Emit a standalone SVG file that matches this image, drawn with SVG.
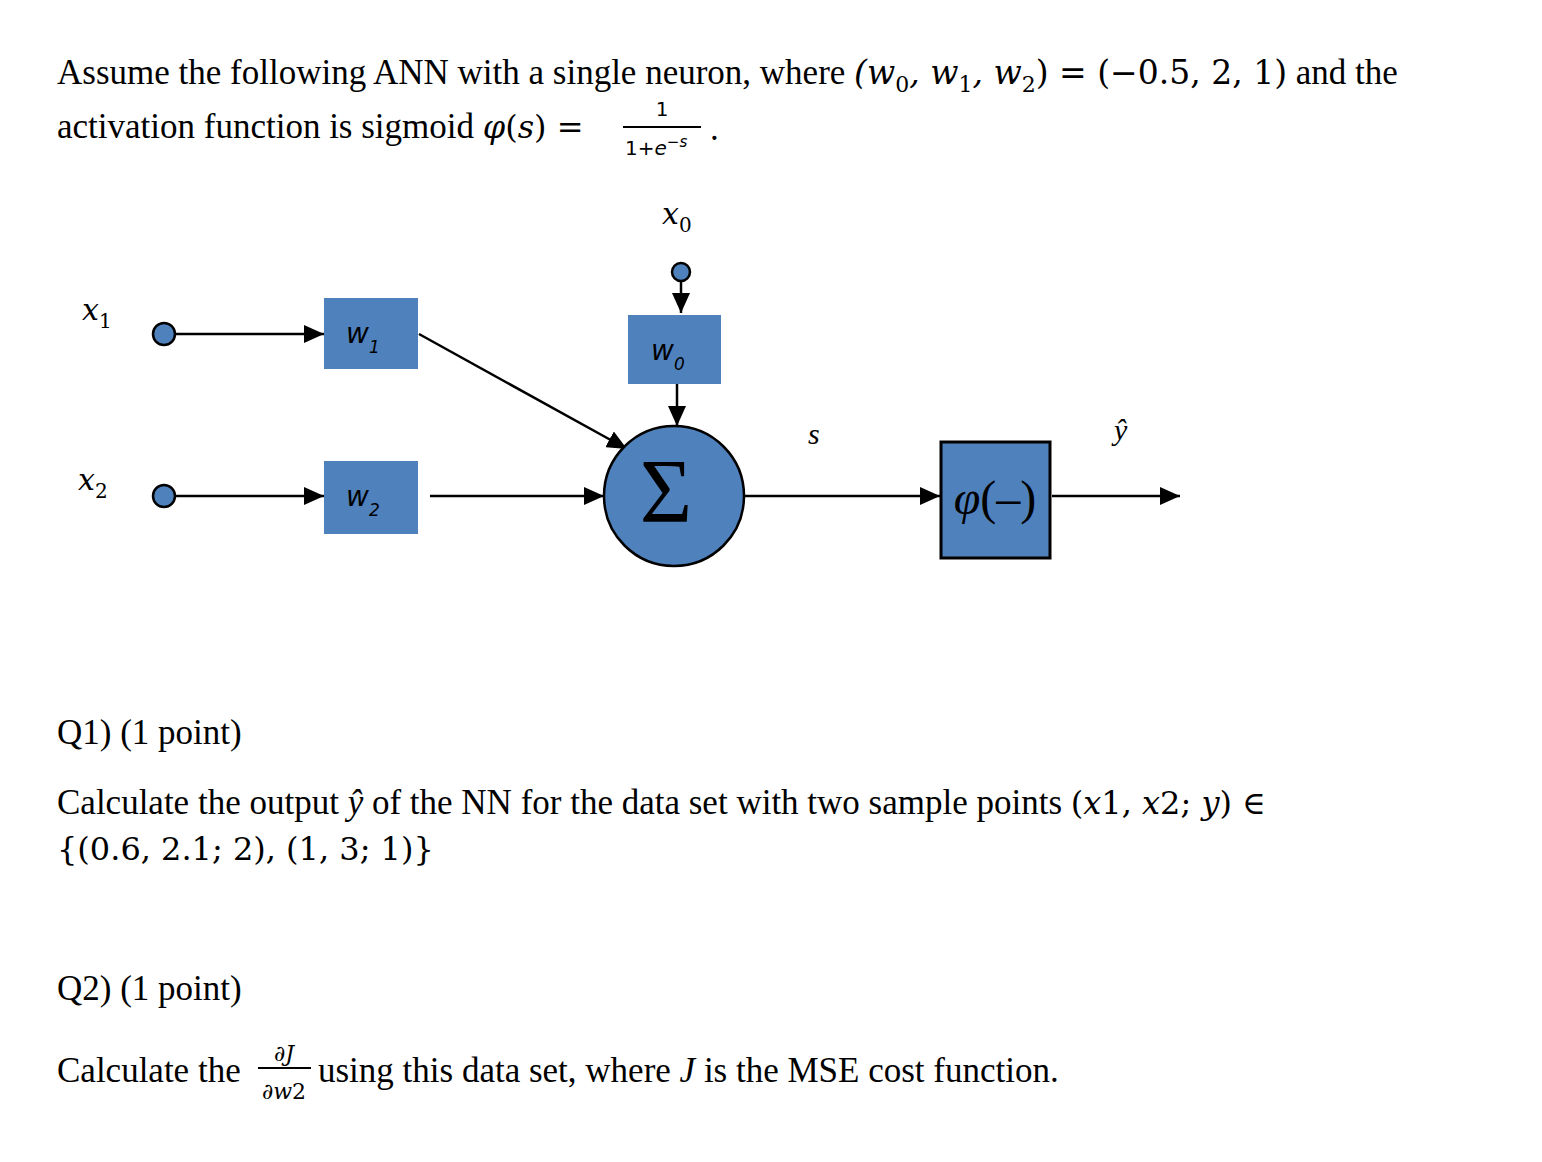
<svg xmlns="http://www.w3.org/2000/svg" width="1542" height="1162" viewBox="0 0 1542 1162">
<style>
.t{font-family:"Liberation Serif",serif;font-size:35px;fill:#000}
.m{font-family:"DejaVu Serif","Liberation Serif",serif;font-size:32px;fill:#000}
.mi{font-style:italic}
.sm{font-size:22px}
.box{fill:#4f81bd}
.lbl{font-family:"DejaVu Sans",sans-serif;font-style:italic;font-size:28px;fill:#000}
.sub{font-size:17px}
.ln{stroke:#000;stroke-width:2.5;fill:none}
.dot{fill:#4f81bd;stroke:#000;stroke-width:2.5}
</style>
<defs>
<marker id="b" markerWidth="20" markerHeight="18" refX="20" refY="9" orient="auto" markerUnits="userSpaceOnUse"><path d="M0,0 L20,9 L0,18z" fill="#000"/></marker></defs>
<rect width="1542" height="1162" fill="#fff"/>
<text class="t" x="57" y="84">Assume the following ANN with a single neuron, where <tspan class="m" style="font-size:33px"><tspan class="mi">(w</tspan><tspan class="sm" dy="8">0</tspan><tspan dy="-8" class="mi">, w</tspan><tspan class="sm" dy="8">1</tspan><tspan dy="-8" class="mi">, w</tspan><tspan class="sm" dy="8">2</tspan><tspan dy="-8">) = (−0.5, 2, 1)</tspan></tspan> and the</text>
<text class="t" x="57" y="138">activation function is sigmoid <tspan class="m"><tspan class="mi">φ</tspan>(<tspan class="mi">s</tspan>) =</tspan></text>
<text x="662" y="116" style="font-family:'DejaVu Sans',sans-serif;font-size:20px" text-anchor="middle">1</text>
<line x1="623" y1="127" x2="701" y2="127" stroke="#000" stroke-width="2"/>
<text x="625" y="155" style="font-family:'DejaVu Sans',sans-serif;font-size:20px">1+<tspan font-style="italic">e</tspan><tspan style="font-size:15px" dy="-8">−<tspan font-style="italic">s</tspan></tspan></text>
<text class="t" x="710" y="140">.</text>
<g id="connectors">
<line class="ln" x1="175" y1="334" x2="324" y2="334" marker-end="url(#b)"/>
<line class="ln" x1="175" y1="496" x2="324" y2="496" marker-end="url(#b)"/>
<line class="ln" x1="419" y1="334" x2="627" y2="449" marker-end="url(#b)"/>
<line class="ln" x1="430" y1="496" x2="604" y2="496" marker-end="url(#b)"/>
<line class="ln" x1="681" y1="281" x2="681" y2="313" marker-end="url(#b)"/>
<line class="ln" x1="677" y1="384" x2="677" y2="426" marker-end="url(#b)"/>
<line class="ln" x1="744" y1="496" x2="940" y2="496" marker-end="url(#b)"/>
<line class="ln" x1="1052" y1="496" x2="1180" y2="496" marker-end="url(#b)"/>
</g>
<g id="x1"><circle class="dot" cx="164" cy="334" r="11"/><text class="mi" x="82" y="320" style="font-family:'DejaVu Serif',serif;font-size:30px">x<tspan style="font-size:20px;font-style:normal" dy="8">1</tspan></text></g>
<g id="x2"><circle class="dot" cx="164" cy="496" r="11"/><text class="mi" x="78" y="490" style="font-family:'DejaVu Serif',serif;font-size:30px">x<tspan style="font-size:20px;font-style:normal" dy="8">2</tspan></text></g>
<g id="x0"><circle class="dot" cx="681" cy="272" r="9"/><text class="mi" x="662" y="224" style="font-family:'DejaVu Serif',serif;font-size:30px">x<tspan style="font-size:20px;font-style:normal" dy="8">0</tspan></text></g>
<g id="w1"><rect class="box" x="324" y="298" width="94" height="71"/><text class="lbl" x="346" y="343">w<tspan class="sub" dy="10">1</tspan></text></g>
<g id="w2"><rect class="box" x="324" y="461" width="94" height="73"/><text class="lbl" x="346" y="506">w<tspan class="sub" dy="10">2</tspan></text></g>
<g id="w0"><rect class="box" x="628" y="315" width="93" height="69"/><text class="lbl" x="651" y="360">w<tspan class="sub" dy="10">0</tspan></text></g>
<g id="sum"><circle cx="674" cy="496" r="70" fill="#4f81bd" stroke="#000" stroke-width="2.5"/><text x="666" y="522" style="font-family:'Liberation Serif',serif;font-size:90px" text-anchor="middle">Σ</text></g>
<g id="phi"><rect x="941" y="442" width="109" height="116" fill="#4f81bd" stroke="#000" stroke-width="3"/><text x="995" y="514" style="font-family:'Liberation Serif',serif;font-size:48px" text-anchor="middle"><tspan font-style="italic">φ</tspan>(–)</text></g>
<text class="mi" x="808" y="444" style="font-family:'Liberation Serif',serif;font-size:30px">s</text>
<text class="mi" x="1114" y="440" style="font-family:'Liberation Serif',serif;font-size:30px">ŷ</text>
<text class="t" x="57" y="744">Q1) (1 point)</text>
<text class="t" x="57" y="814">Calculate the output <tspan class="mi">ŷ</tspan> of the NN for the data set with two sample points <tspan class="m"><tspan>(</tspan><tspan class="mi">x</tspan>1, <tspan class="mi">x</tspan>2; <tspan class="mi">y</tspan>) ∈</tspan></text>
<text class="m" x="57" y="860">{(0.6, 2.1; 2), (1, 3; 1)}</text>
<text class="t" x="57" y="1000">Q2) (1 point)</text>
<text class="t" x="57" y="1082">Calculate the</text>
<text x="284" y="1061" style="font-family:'DejaVu Serif',serif;font-size:22px" text-anchor="middle">∂<tspan font-style="italic">J</tspan></text>
<line x1="258" y1="1068" x2="311" y2="1068" stroke="#000" stroke-width="2"/>
<text x="284" y="1099" style="font-family:'DejaVu Serif',serif;font-size:22px" text-anchor="middle">∂<tspan font-style="italic">w</tspan>2</text>
<text class="t" x="318" y="1082">using this data set, where <tspan class="mi">J</tspan> is the MSE cost function.</text>
</svg>
